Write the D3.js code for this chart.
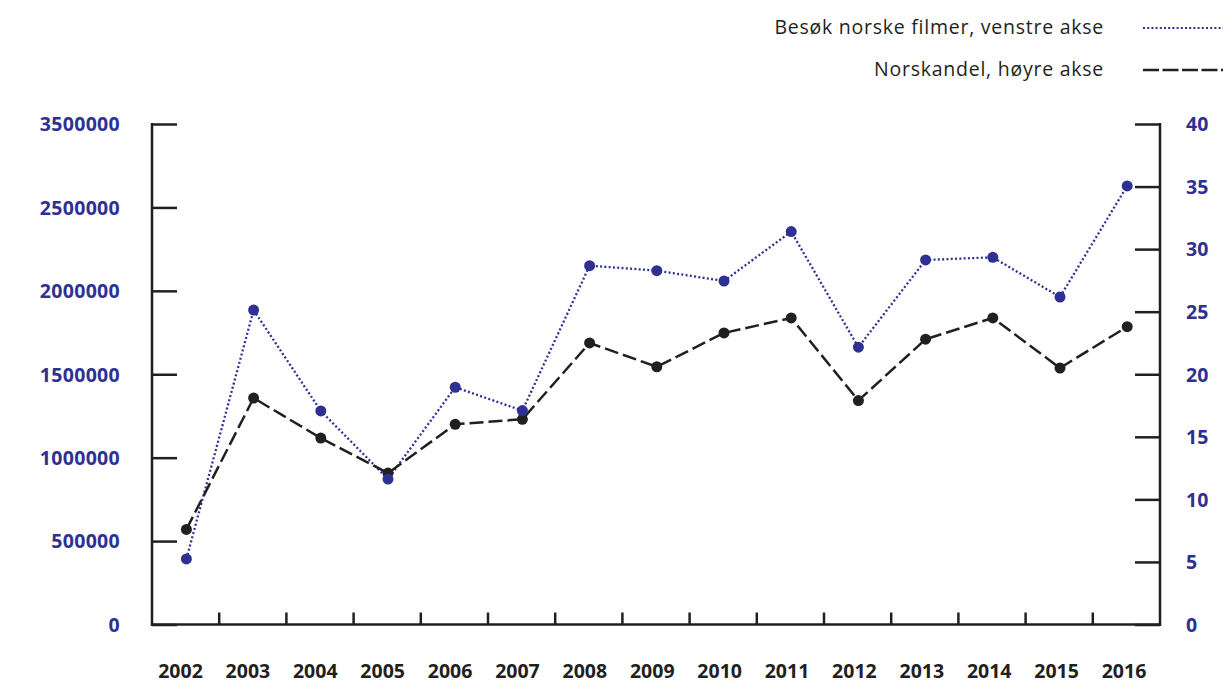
<!DOCTYPE html>
<html><head><meta charset="utf-8">
<script src="https://cdn.jsdelivr.net/npm/d3@7"></script>
<style>body{margin:0;background:#fff}svg{display:block}</style>
</head><body>
<svg id="c" width="1223" height="683"></svg>
<script>
const years = ["2002","2003","2004","2005","2006","2007","2008","2009","2010","2011","2012","2013","2014","2015","2016"];
const visits = [393000,1885000,1280000,872000,1422000,1282000,2151000,2121000,2059000,2355000,1662000,2185000,2201000,1963000,2629000];
const share = [7.6,18.1,14.9,12.1,16.0,16.4,22.5,20.6,23.3,24.5,17.9,22.8,24.5,20.5,23.8];
const leftTickValues = [0,500000,1000000,1500000,2000000,2500000,3000000];
const leftTickLabels = ["0","500000","1000000","1500000","2000000","2500000","3500000"];
const rightTickValues = [0,5,10,15,20,25,30,35,40];
const seriesNames = ["Besøk norske filmer, venstre akse","Norskandel, høyre akse"];

const BLUE = "#2e3192", DARK = "#231f20";
const svg = d3.select("#c");
const L = 152, R = 1160, T = 124, B = 624.5;
const FONT = "'Open Sans', 'Noto Sans', sans-serif";

const x = d3.scaleBand().domain(years).range([L, R]).paddingInner(0).paddingOuter(0);
const xLab = d3.scalePoint().domain(years).range([180.5, 1124]);
const yL = d3.scaleLinear().domain([0, 3000000]).range([B, T]);
const yR = d3.scaleLinear().domain([0, 40]).range([B, T]);

// Left axis
const gL = svg.append("g").attr("transform", `translate(${L},0)`)
  .call(d3.axisRight(yL).tickValues(leftTickValues).tickSize(25).tickFormat((d,i)=>leftTickLabels[i]));
gL.select(".domain").remove();
gL.selectAll(".tick line").attr("stroke", DARK).attr("stroke-width", 2.5);
gL.selectAll(".tick text").attr("x", -32).attr("text-anchor","end").attr("fill", BLUE)
  .attr("font-family", FONT).attr("font-weight","bold").attr("font-size", 19.5)
  .attr("letter-spacing", "0.3px").attr("dy","0.35em");

// Right axis
const gR = svg.append("g").attr("transform", `translate(${R},0)`)
  .call(d3.axisLeft(yR).tickValues(rightTickValues).tickSize(25).tickFormat(d3.format("d")));
gR.select(".domain").remove();
gR.selectAll(".tick line").attr("stroke", DARK).attr("stroke-width", 2.5);
gR.selectAll(".tick text").attr("x", 26).attr("text-anchor","start").attr("fill", BLUE)
  .attr("font-family", FONT).attr("font-weight","bold").attr("font-size", 19.5).attr("dy","0.35em");

// Axis lines
svg.append("line").attr("x1", L).attr("x2", L).attr("y1", T-1).attr("y2", B+1.2).attr("stroke", DARK).attr("stroke-width", 2.5);
svg.append("line").attr("x1", R).attr("x2", R).attr("y1", T-1).attr("y2", B+1.2).attr("stroke", DARK).attr("stroke-width", 2.5);
svg.append("line").attr("x1", L-1.2).attr("x2", R+1.2).attr("y1", B).attr("y2", B).attr("stroke", DARK).attr("stroke-width", 2.5);

// X ticks at band boundaries (interior)
svg.append("g").selectAll("line").data(years.slice(1)).join("line")
  .attr("x1", d => x(d)).attr("x2", d => x(d)).attr("y1", B).attr("y2", B-12)
  .attr("stroke", DARK).attr("stroke-width", 2.5);

// X labels
svg.append("g").selectAll("text").data(years).join("text")
  .attr("x", d => xLab(d)).attr("y", 671).attr("dy","0.35em")
  .attr("text-anchor","middle").attr("fill", DARK)
  .attr("font-family", FONT).attr("font-weight","bold").attr("font-size", 19.5)
  .text(d => d);

const cx = d => x(d) + x.bandwidth()/2 + 0.8;

// Blue dotted line
const lineL = d3.line().x((d,i)=>cx(years[i])).y(d=>yL(d));
svg.append("path").datum(visits).attr("d", lineL).attr("fill","none")
  .attr("stroke", BLUE).attr("stroke-width", 2.3).attr("stroke-dasharray","2,2.3");
// Black dashed line
const lineR = d3.line().x((d,i)=>cx(years[i])).y(d=>yR(d));
svg.append("path").datum(share).attr("d", lineR).attr("fill","none")
  .attr("stroke", DARK).attr("stroke-width", 2.5).attr("stroke-dasharray","14,5");

svg.append("g").selectAll("circle").data(share).join("circle")
  .attr("cx",(d,i)=>cx(years[i])).attr("cy", d=>yR(d)).attr("r",5.5).attr("fill", DARK);
svg.append("g").selectAll("circle").data(visits).join("circle")
  .attr("cx",(d,i)=>cx(years[i])).attr("cy", d=>yL(d)).attr("r",5.5).attr("fill", BLUE);

// Legend
const leg = [{name: seriesNames[0], y: 27, color: BLUE, dash: "2,2.2", w: 2.2},
             {name: seriesNames[1], y: 69, color: DARK, dash: "16,3.5", w: 2.5}];
const lg = svg.append("g");
leg.forEach(l => {
  lg.append("text").attr("x", 1104).attr("y", l.y).attr("dy","0.35em").attr("text-anchor","end")
    .attr("fill", DARK).attr("font-family", FONT).attr("font-size", 19.5)
    .attr("letter-spacing", "0.75px").text(l.name);
  lg.append("line").attr("x1", 1143).attr("x2", 1223).attr("y1", l.y+1).attr("y2", l.y+1)
    .attr("stroke", l.color).attr("stroke-width", l.w).attr("stroke-dasharray", l.dash);
});
</script>
</body></html>
